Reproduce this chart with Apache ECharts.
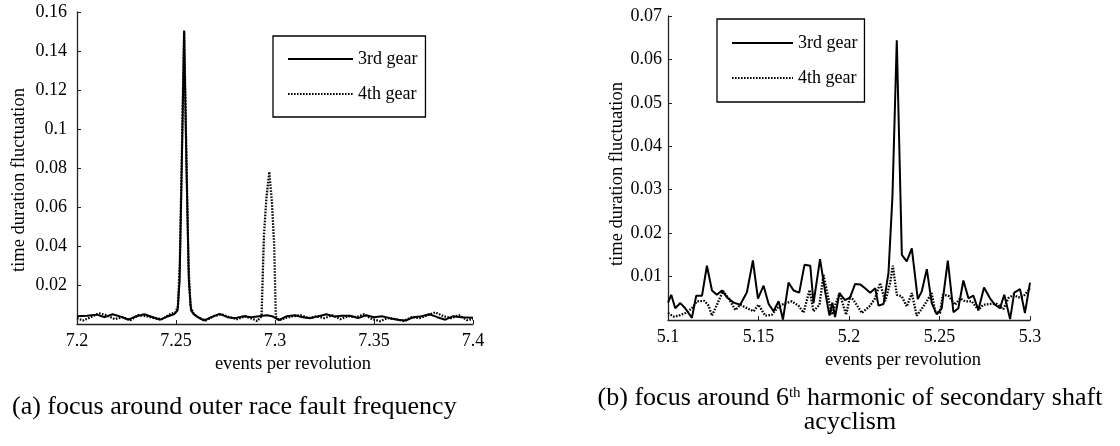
<!DOCTYPE html>
<html>
<head>
<meta charset="utf-8">
<script src="https://cdn.jsdelivr.net/npm/echarts@6/dist/echarts.min.js"></script>
<style>html,body{margin:0;padding:0;background:#fff}#c{width:1120px;height:446px}</style>
</head>
<body>
<div id="c"></div>
<script>
// ---------- data ----------
const seriesNames = ['3rd gear', '4th gear'];
const xTicksA = ['7.2', '7.25', '7.3', '7.35', '7.4'];
const yTicksA = ['0.02', '0.04', '0.06', '0.08', '0.1', '0.12', '0.14', '0.16'];
const xTicksB = ['5.1', '5.15', '5.2', '5.25', '5.3'];
const yTicksB = ['0.01', '0.02', '0.03', '0.04', '0.05', '0.06', '0.07'];

// (a) 3rd gear  [events per revolution, fluctuation]
const gear3A = [
  [7.200,0.0040],[7.205,0.0042],[7.210,0.0048],[7.214,0.0035],[7.218,0.0050],[7.222,0.0038],
  [7.226,0.0022],[7.230,0.0040],[7.234,0.0050],[7.238,0.0036],[7.242,0.0022],[7.246,0.0040],
  [7.249,0.0050],[7.2508,0.0070],[7.2518,0.0220],[7.2529,0.0800],[7.2541,0.1505],[7.2553,0.0800],
  [7.2565,0.0220],[7.2576,0.0070],[7.259,0.0050],[7.261,0.0035],[7.264,0.0018],[7.268,0.0035],
  [7.272,0.0052],[7.276,0.0035],[7.280,0.0030],[7.284,0.0040],[7.288,0.0035],[7.292,0.0040],
  [7.296,0.0045],[7.299,0.0038],[7.302,0.0020],[7.306,0.0040],[7.310,0.0045],[7.314,0.0035],
  [7.318,0.0030],[7.322,0.0040],[7.326,0.0050],[7.330,0.0038],[7.334,0.0042],[7.338,0.0042],
  [7.342,0.0030],[7.346,0.0045],[7.350,0.0035],[7.354,0.0040],[7.358,0.0030],[7.362,0.0022],
  [7.366,0.0018],[7.370,0.0035],[7.374,0.0040],[7.378,0.0050],[7.382,0.0035],[7.386,0.0022],
  [7.390,0.0040],[7.394,0.0035],[7.400,0.0032]
];
// (a) 4th gear
const gear4A = [
  [7.200,0.0030],[7.203,0.0018],[7.207,0.0035],[7.211,0.0055],[7.215,0.0045],[7.219,0.0025],
  [7.223,0.0035],[7.227,0.0020],[7.231,0.0045],[7.235,0.0040],[7.239,0.0030],[7.243,0.0025],
  [7.247,0.0050],[7.2498,0.0060],[7.2510,0.0090],[7.2519,0.0300],[7.2530,0.0900],[7.2541,0.1500],
  [7.2552,0.0900],[7.2563,0.0300],[7.2573,0.0090],[7.259,0.0050],[7.262,0.0030],[7.265,0.0018],
  [7.269,0.0040],[7.273,0.0050],[7.277,0.0035],[7.281,0.0025],[7.285,0.0040],[7.289,0.0025],
  [7.291,0.0015],[7.2932,0.0040],[7.2944,0.0450],[7.2957,0.0650],[7.2971,0.0780],[7.2985,0.0620],
  [7.2996,0.0400],[7.3004,0.0040],[7.302,0.0020],[7.305,0.0030],[7.309,0.0040],[7.313,0.0045],
  [7.317,0.0030],[7.321,0.0040],[7.325,0.0030],[7.329,0.0045],[7.333,0.0025],[7.337,0.0040],
  [7.341,0.0035],[7.345,0.0050],[7.349,0.0025],[7.353,0.0015],[7.357,0.0030],[7.361,0.0025],
  [7.365,0.0015],[7.369,0.0035],[7.373,0.0030],[7.377,0.0045],[7.381,0.0060],[7.385,0.0040],
  [7.389,0.0030],[7.393,0.0045],[7.397,0.0020],[7.400,0.0025]
];
// (b) 3rd gear
const gear3B = [
  [5.1000,0.0040],[5.1018,0.0058],[5.1040,0.0027],[5.1068,0.0039],[5.1095,0.0027],[5.1132,0.0005],
  [5.1156,0.0056],[5.1188,0.0056],[5.1215,0.0125],[5.1243,0.0068],[5.1270,0.0058],[5.1298,0.0068],
  [5.1326,0.0052],[5.1363,0.0040],[5.1399,0.0035],[5.1436,0.0064],[5.1469,0.0137],[5.1497,0.0049],
  [5.1528,0.0079],[5.1556,0.0037],[5.1583,0.0020],[5.1611,0.0043],[5.1635,0.0001],[5.1666,0.0086],
  [5.1694,0.0068],[5.1725,0.0063],[5.1754,0.0127],[5.1786,0.0125],[5.1804,0.0039],[5.1840,0.0140],
  [5.1868,0.0066],[5.1892,0.0010],[5.1908,0.0040],[5.1923,0.0007],[5.1947,0.0062],[5.1978,0.0046],
  [5.2006,0.0052],[5.2034,0.0083],[5.2062,0.0082],[5.2089,0.0073],[5.2117,0.0063],[5.2145,0.0073],
  [5.2163,0.0033],[5.2191,0.0037],[5.2218,0.0108],[5.2240,0.0284],[5.2264,0.0644],[5.2292,0.0150],
  [5.2319,0.0135],[5.2347,0.0165],[5.2380,0.0048],[5.2402,0.0066],[5.2430,0.0117],[5.2457,0.0039],
  [5.2485,0.0013],[5.2512,0.0027],[5.2546,0.0137],[5.2577,0.0018],[5.2604,0.0027],[5.2632,0.0091],
  [5.2660,0.0050],[5.2687,0.0056],[5.2715,0.0023],[5.2746,0.0075],[5.2779,0.0050],[5.2807,0.0035],
  [5.2834,0.0027],[5.2858,0.0058],[5.2890,0.0002],[5.2913,0.0063],[5.2945,0.0071],[5.2972,0.0016],
  [5.3000,0.0086]
];
// (b) 4th gear
const gear4B = [
  [5.1000,0.0016],[5.1031,0.0008],[5.1059,0.0010],[5.1096,0.0016],[5.1132,0.0027],[5.1160,0.0043],
  [5.1201,0.0044],[5.1224,0.0033],[5.1243,0.0010],[5.1270,0.0035],[5.1304,0.0067],[5.1335,0.0050],
  [5.1372,0.0023],[5.1399,0.0035],[5.1473,0.0020],[5.1500,0.0035],[5.1537,0.0010],[5.1574,0.0012],
  [5.1602,0.0027],[5.1638,0.0037],[5.1684,0.0043],[5.1721,0.0033],[5.1749,0.0017],[5.1782,0.0069],
  [5.1804,0.0020],[5.1837,0.0035],[5.1859,0.0104],[5.1878,0.0066],[5.1905,0.0012],[5.1948,0.0062],
  [5.1984,0.0012],[5.2006,0.0054],[5.2025,0.0046],[5.2071,0.0016],[5.2117,0.0033],[5.2144,0.0050],
  [5.2172,0.0085],[5.2200,0.0043],[5.2227,0.0085],[5.2242,0.0125],[5.2264,0.0058],[5.2292,0.0054],
  [5.2319,0.0031],[5.2347,0.0062],[5.2374,0.0010],[5.2411,0.0031],[5.2457,0.0062],[5.2476,0.0020],
  [5.2503,0.0016],[5.2518,0.0058],[5.2549,0.0056],[5.2586,0.0035],[5.2614,0.0050],[5.2641,0.0043],
  [5.2678,0.0043],[5.2715,0.0023],[5.2742,0.0035],[5.2779,0.0037],[5.2816,0.0037],[5.2853,0.0025],
  [5.2880,0.0050],[5.2908,0.0058],[5.2936,0.0052],[5.2963,0.0054],[5.3000,0.0073]
];

// ---------- styling ----------
const FONT = '"Liberation Serif", "Times New Roman", serif';
const AX = '#222';
function xAxisCfg(gi, min, max, nameGap, padLeft) {
  return {
    type: 'value', gridIndex: gi, min: min, max: max, interval: 0.05,
    name: 'events per revolution', nameLocation: 'middle', nameGap: nameGap,
    nameTextStyle: { fontFamily: FONT, fontSize: 18.5, color: '#000', padding: [0, 0, 0, padLeft] },
    axisLine: { show: true, onZero: false, lineStyle: { color: AX, width: 1.3 } },
    axisTick: { show: true, inside: true, length: 4, lineStyle: { color: AX } },
    axisLabel: { fontFamily: FONT, fontSize: 18, color: '#000', margin: 8 },
    splitLine: { show: false }
  };
}
function yAxisCfg(gi, max, interval, nameGap, padRight, margin) {
  return {
    type: 'value', gridIndex: gi, min: 0, max: max, interval: interval,
    name: 'time duration fluctuation', nameLocation: 'middle', nameGap: nameGap,
    nameTextStyle: { fontFamily: FONT, fontSize: 18.5, color: '#000', padding: [0, padRight, 0, 0] },
    axisLine: { show: true, lineStyle: { color: AX, width: 1.3 } },
    axisTick: { show: true, inside: true, length: 4, lineStyle: { color: AX } },
    axisLabel: { fontFamily: FONT, fontSize: 18, color: '#000', margin: margin, showMinLabel: false },
    splitLine: { show: false }
  };
}
const solid = { color: '#000', width: 2, type: 'solid' };
const dotted = { color: '#000', width: 2.3, type: [1.6, 1.4] };
function line(name, data, gi, style, z) {
  return { name: name, type: 'line', xAxisIndex: gi, yAxisIndex: gi, data: data,
    symbol: 'none', showSymbol: false, lineStyle: style, itemStyle: { color: '#000' },
    z: z, animation: false, clip: true };
}
function legendCfg(left, top, itemWidth, padding) {
  return {
    data: seriesNames, orient: 'vertical', left: left, top: top,
    itemWidth: itemWidth, itemHeight: 14, itemGap: 17, padding: padding,
    borderColor: '#000', borderWidth: 1.3, backgroundColor: '#fff',
    itemStyle: { opacity: 0 },
    textStyle: { fontFamily: FONT, fontSize: 18, color: '#000' },
    selectedMode: false
  };
}

const chart = echarts.init(document.getElementById('c'), null, { renderer: 'canvas' });
chart.setOption({
  backgroundColor: '#fff',
  animation: false,
  grid: [
    { left: 77, right: 647, top: 12, bottom: 122, containLabel: false },
    { left: 668, right: 90, top: 16, bottom: 126, containLabel: false }
  ],
  xAxis: [ xAxisCfg(0, 7.2, 7.4, 26, 36), xAxisCfg(1, 5.1, 5.3, 23, 108) ],
  yAxis: [ yAxisCfg(0, 0.16, 0.02, 48, 24, 10), yAxisCfg(1, 0.07, 0.01, 37, 12, 6) ],
  legend: [ legendCfg(273, 36, 65, [14, 8, 14, 14]), legendCfg(717, 19, 61, [15, 7, 15, 14]) ],
  series: [
    line(seriesNames[1], gear4A, 0, dotted, 2),
    line(seriesNames[0], gear3A, 0, solid, 3),
    line(seriesNames[1], gear4B, 1, dotted, 2),
    line(seriesNames[0], gear3B, 1, solid, 3)
  ],
  graphic: [
    { type: 'text', left: 12, top: 394,
      style: { text: '(a) focus around outer race fault frequency', fontFamily: FONT, fontSize: 26, fill: '#000' } },
    { type: 'text', x: 850, y: 410,
      style: {
        text: '{n|(b) focus around 6}{s|th}{n| harmonic of secondary shaft}\n{n|acyclism}',
        align: 'center', verticalAlign: 'middle', fill: '#000',
        rich: {
          n: { fontFamily: FONT, fontSize: 26, lineHeight: 24, fill: '#000' },
          s: { fontFamily: FONT, fontSize: 15, lineHeight: 24, verticalAlign: 'top', fill: '#000' }
        }
      } }
  ]
});
</script>
</body>
</html>
